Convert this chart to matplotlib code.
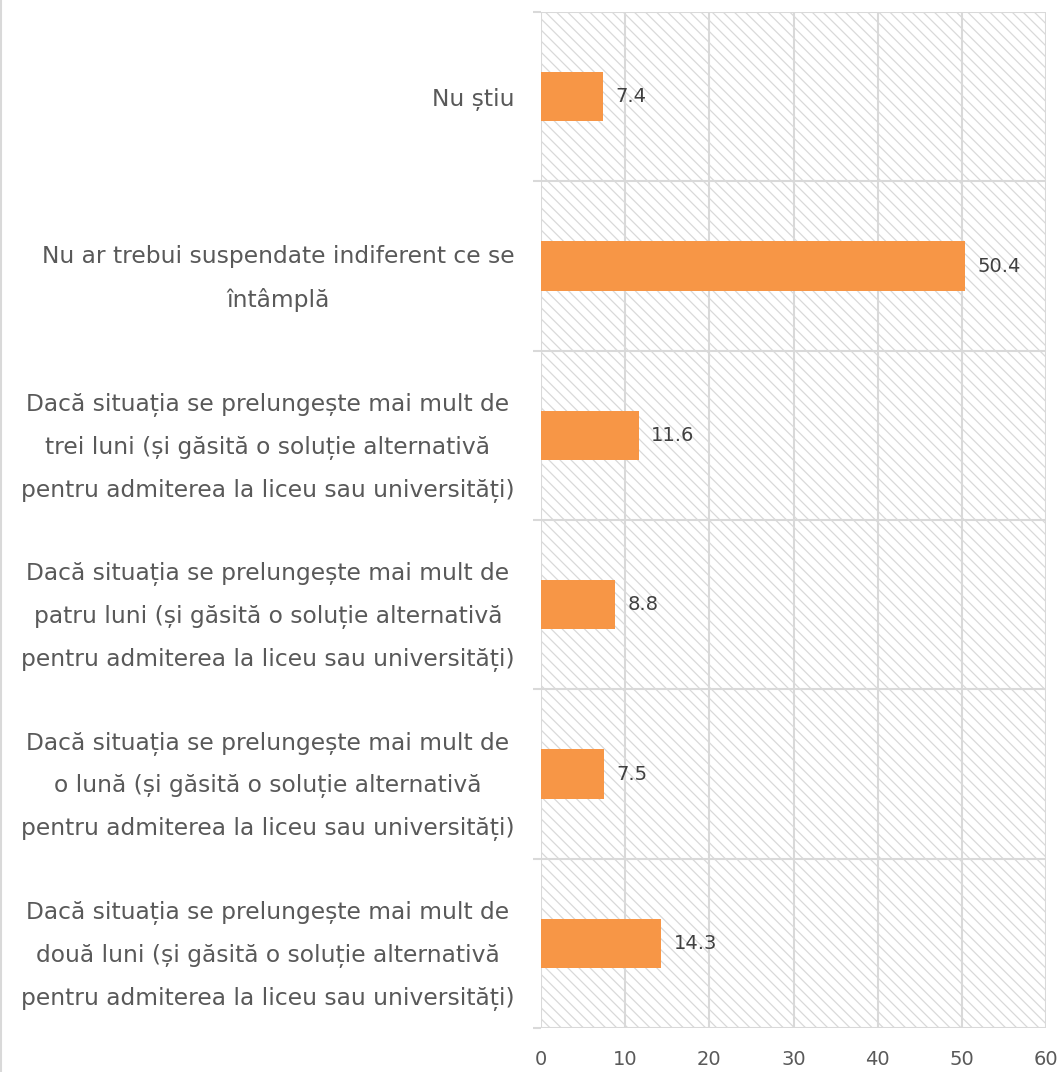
import matplotlib
matplotlib.use("Agg")
import matplotlib.pyplot as plt
import numpy as np
from matplotlib.patches import Rectangle
from matplotlib.lines import Line2D

categories = [
    "Nu știu",
    "Nu ar trebui suspendate indiferent ce se\nîntâmplă",
    "Dacă situația se prelungește mai mult de\ntrei luni (și găsită o soluție alternativă\npentru admiterea la liceu sau universități)",
    "Dacă situația se prelungește mai mult de\npatru luni (și găsită o soluție alternativă\npentru admiterea la liceu sau universități)",
    "Dacă situația se prelungește mai mult de\no lună (și găsită o soluție alternativă\npentru admiterea la liceu sau universități)",
    "Dacă situația se prelungește mai mult de\ndouă luni (și găsită o soluție alternativă\npentru admiterea la liceu sau universități)",
]
values = [7.4, 50.4, 11.6, 8.8, 7.5, 14.3]
value_labels = ["7.4", "50.4", "11.6", "8.8", "7.5", "14.3"]
xticks = [0, 10, 20, 30, 40, 50, 60]

plt.rcParams['font.family'] = ['DejaVu Sans']
plt.rcParams['hatch.linewidth'] = 0.9
plt.rcParams['hatch.color'] = '#d6d6d6'

fig = plt.figure(figsize=(10.61, 10.72), dpi=100)
ax = fig.add_axes([541/1061, 1 - 1028/1072, (1046-541)/1061, (1028-12)/1072])

grid_c = '#d9d9d9'
bg = Rectangle((0, 0), 1, 1, transform=ax.transAxes, facecolor='white',
               edgecolor=grid_c, hatch='\\' * 3, linewidth=0, zorder=0)
ax.add_patch(bg)

y = np.arange(len(categories))
ax.barh(y, values, height=0.29, color='#F79646', zorder=3)
for yi, v, lab in zip(y, values, value_labels):
    ax.annotate(lab, (v, yi), xytext=(9, 0), textcoords='offset points',
                va='center', ha='left', fontsize=14, color='#404040', zorder=4)

ax.set_xlim(0, 60)
ax.set_ylim(len(categories) - 0.5, -0.5)
ax.set_xticks(xticks)
ax.set_xticklabels([str(t) for t in xticks])
ax.set_yticks(y)
ax.set_yticklabels(categories)
for lbl in ax.get_yticklabels():
    lbl.set_multialignment('center')
    lbl.set_linespacing(2.05)
ax.set_yticks(np.arange(len(categories) + 1) - 0.5, minor=True)

ax.tick_params(axis='y', which='major', length=0, pad=19, labelsize=16.8, labelcolor='#595959')
ax.tick_params(axis='y', which='minor', length=6, width=1.5, color=grid_c, direction='out')
ax.tick_params(axis='x', which='major', length=0, pad=16, labelsize=14, labelcolor='#595959')

ax.grid(axis='x', which='major', color=grid_c, linewidth=1.5, zorder=1)
ax.grid(axis='y', which='minor', color=grid_c, linewidth=1.5, zorder=1)
ax.set_axisbelow(True)
for s in ax.spines.values():
    s.set_visible(False)

fig.add_artist(Line2D([0.0008, 0.0008], [0, 1], transform=fig.transFigure, color='#d9d9d9', linewidth=1.5))

fig.savefig('out.png', dpi=100, facecolor='white')
